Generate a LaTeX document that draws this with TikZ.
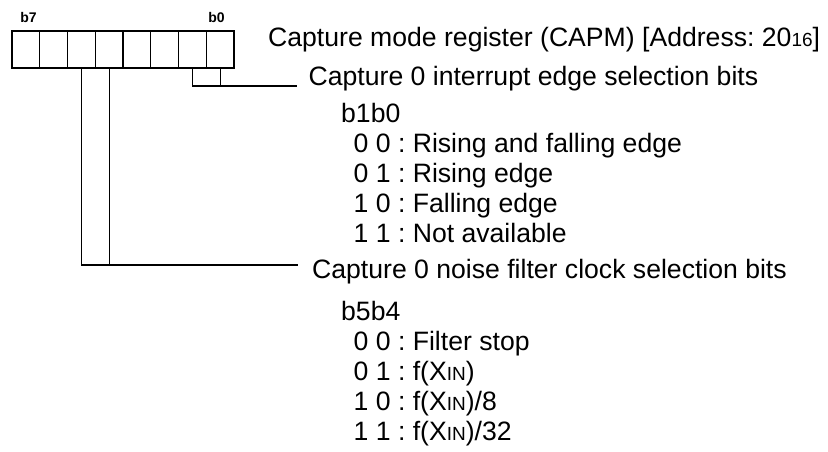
\documentclass[tikz,border=0pt]{standalone}
\usepackage{fontspec}
\setmainfont{Liberation Sans}
\usetikzlibrary{positioning}
\frenchspacing
\newcommand{\smallidx}[1]{{\fontsize{19}{19}\selectfont #1}}

\begin{document}
\begin{tikzpicture}[x=1pt,y=-1pt,font=\fontsize{26.6}{30}\selectfont,
    bitcell/.style={draw,line width=1.2pt,minimum width=27.75pt,minimum height=37pt,inner sep=0pt},
    bitlabel/.style={font=\bfseries\fontsize{14}{14}\selectfont,inner sep=0pt},
    txt/.style={anchor=base west,inner sep=0pt},
    link/.style={line width=1.2pt}]
    \useasboundingbox (0,0) rectangle (828,451);
    \foreach \i in {0,...,7}{
      \node[bitcell] (b\i) at ({12+(7-\i)*27.75+13.875},49.5) {};
    }
    \node[bitlabel,above=7.7pt of b7.north,xshift=2.6pt] (lb7) {b7};
    \node[bitlabel,above=7.7pt of b0.north,xshift=-3.6pt] (lb0) {b0};
    \node[txt] (title) at (268,46.5) {Capture mode register (CAPM) [Address: 20\smallidx{16}]};
    \coordinate (e0) at (297,86);
    \draw[link] (b1.south) |- (e0);
    \draw[link] (b0.south) -- (b0.south |- e0);
    \node[txt] (edgesel) at (308.5,85) {Capture 0 interrupt edge selection bits};
    \node[txt] (h0) at (341,122) {b1b0};
    \foreach \y/\t [count=\k] in {152/{0 0 : Rising and falling edge},182/{0 1 : Rising edge},
        212/{1 0 : Falling edge},242.5/{1 1 : Not available}}{
      \node[txt] (ea\k) at (353.5,\y) {\t};
    }
    \coordinate (e1) at (298,265);
    \draw[link] (b5.south) |- (e1);
    \draw[link] (b4.south) -- (b4.south |- e1);
    \node[txt] (filtsel) at (312,278.5) {Capture 0 noise filter clock selection bits};
    \node[txt] (h1) at (341,320) {b5b4};
    \foreach \y/\t [count=\k] in {350/{0 0 : Filter stop},380/{0 1 : f(X\smallidx{IN})},
        410/{1 0 : f(X\smallidx{IN})/8},440/{1 1 : f(X\smallidx{IN})/32}}{
      \node[txt] (fc\k) at (353.5,\y) {\t};
    }
  \end{tikzpicture}
\end{document}
